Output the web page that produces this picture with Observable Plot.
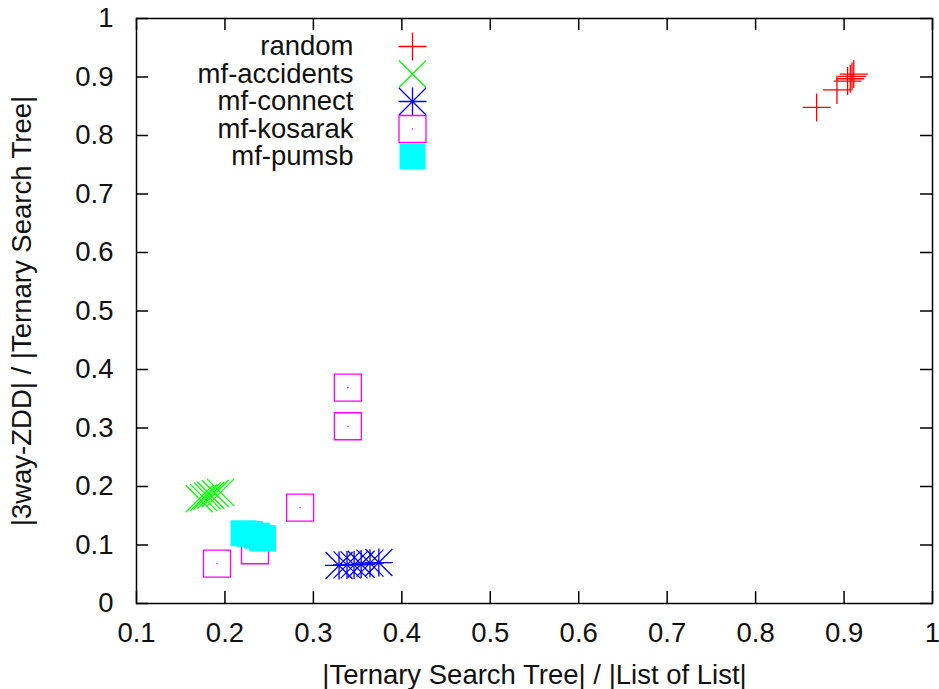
<!DOCTYPE html>
<html><head><meta charset="utf-8">
<script src="https://cdn.jsdelivr.net/npm/d3@7"></script>
<script src="https://cdn.jsdelivr.net/npm/@observablehq/plot@0.6"></script>
<style>body{margin:0;background:#fff}</style>
</head><body><div id="chart"></div>
<script>
const seriesNames = ["random", "mf-accidents", "mf-connect", "mf-kosarak", "mf-pumsb"];
const seriesColors = ["#ff0000", "#00ff00", "#0000ff", "#ff00ff", "#00ffff"];

const randomX = [0.869, 0.892, 0.904, 0.907, 0.909, 0.911];
const randomY = [0.848, 0.878, 0.893, 0.897, 0.901, 0.905];
const accidentsX = [0.171, 0.176, 0.180, 0.184, 0.189, 0.195];
const accidentsY = [0.179, 0.181, 0.184, 0.185, 0.188, 0.190];
const connectX = [0.329, 0.338, 0.346, 0.354, 0.364, 0.374];
const connectY = [0.065, 0.066, 0.066, 0.067, 0.069, 0.070];
const kosarakX = [0.191, 0.234, 0.285, 0.339, 0.339];
const kosarakY = [0.068, 0.091, 0.164, 0.303, 0.369];
const pumsbX = [0.221, 0.228, 0.236, 0.242, 0.243];
const pumsbY = [0.120, 0.119, 0.116, 0.112, 0.111];

const xTicks = [0.1, 0.2, 0.3, 0.4, 0.5, 0.6, 0.7, 0.8, 0.9, 1];
const yTicks = [0, 0.1, 0.2, 0.3, 0.4, 0.5, 0.6, 0.7, 0.8, 0.9, 1];
const xLabel = "|Ternary Search Tree| / |List of List|";
const yLabel = "|3way-ZDD| / |Ternary Search Tree|";

const pts = (xs, ys) => xs.map((x, i) => ({x, y: ys[i]}));
const randomPts = pts(randomX, randomY);
const accidentsPts = pts(accidentsX, accidentsY);
const connectPts = pts(connectX, connectY);
const kosarakPts = pts(kosarakX, kosarakY);
const pumsbPts = pts(pumsbX, pumsbY);

const W = 939, H = 689, mL = 136, mR = 7, mT = 18, mB = 86;
const plotW = W - mL - mR, plotH = H - mT - mB;
const tickLen = 12;
const FS = 27.5;
const SW = 1.3;

// symbol styles per series (plus, times, asterisk = plus+times, open square, filled square)
const symStyles = [
  [{symbol: "plus", r: 9.06, stroke: seriesColors[0], strokeWidth: SW}],
  [{symbol: "times", r: 12.33, stroke: seriesColors[1], strokeWidth: SW}],
  [{symbol: "plus", r: 9.06, stroke: seriesColors[2], strokeWidth: SW},
   {symbol: "times", r: 12.33, stroke: seriesColors[2], strokeWidth: SW}],
  [{symbol: "square2", r: 17.19, stroke: seriesColors[3], strokeWidth: SW},
   {symbol: "circle", r: 0.8, fill: seriesColors[3], stroke: "none"}],
  [{symbol: "square", r: 14.67, fill: seriesColors[4], stroke: "none"}]
];
const seriesData = [randomPts, accidentsPts, connectPts, kosarakPts, pumsbPts];

const marks = [];
// tick marks (inward, mirrored)
marks.push(Plot.tickX(xTicks, {x: d => d, insetTop: plotH - tickLen, stroke: "#000", strokeWidth: 1.5}));
marks.push(Plot.tickX(xTicks, {x: d => d, insetBottom: plotH - tickLen, stroke: "#000", strokeWidth: 1.5}));
marks.push(Plot.tickY(yTicks, {y: d => d, insetRight: plotW - tickLen, stroke: "#000", strokeWidth: 1.5}));
marks.push(Plot.tickY(yTicks, {y: d => d, insetLeft: plotW - tickLen, stroke: "#000", strokeWidth: 1.5}));
marks.push(Plot.axisX({ticks: xTicks, tickSize: 0, tickPadding: 19, fontSize: FS, label: null, tickFormat: d => String(d)}));
marks.push(Plot.axisY({ticks: yTicks, tickSize: 0, tickPadding: 23, fontSize: FS, label: null, tickFormat: d => String(d)}));

// data
seriesData.forEach((data, i) => {
  symStyles[i].forEach(st => marks.push(Plot.dot(data, {x: "x", y: "y", ...st})));
});

// legend
seriesNames.forEach((name, i) => {
  const dy = 28 + i * 27.5;
  marks.push(Plot.text([name], {text: d => d, frameAnchor: "top-left", dx: 217, dy, textAnchor: "end", lineAnchor: "middle", fontSize: FS, fill: "#111"}));
  symStyles[i].forEach(st => marks.push(Plot.dot([name], {frameAnchor: "top-left", dx: 276, dy, ...st})));
});

// axis titles
marks.push(Plot.text([xLabel], {text: d => d, frameAnchor: "bottom", dy: 71.5, textAnchor: "middle", lineAnchor: "middle", fontSize: FS, fill: "#111"}));
marks.push(Plot.text([yLabel], {text: d => d, frameAnchor: "left", dx: -114, rotate: -90, textAnchor: "middle", lineAnchor: "middle", fontSize: FS, fill: "#111"}));

marks.push(Plot.frame({stroke: "#000", strokeWidth: 1.5}));

const chart = Plot.plot({
  width: W, height: H,
  marginLeft: mL, marginRight: mR, marginTop: mT, marginBottom: mB,
  style: {fontFamily: "'Liberation Sans', Arial, sans-serif", fontSize: FS + "px", color: "#111", background: "#fff"},
  x: {domain: [0.1, 1]},
  y: {domain: [0, 1]},
  marks
});
document.getElementById("chart").appendChild(chart);
</script>
</body></html>
